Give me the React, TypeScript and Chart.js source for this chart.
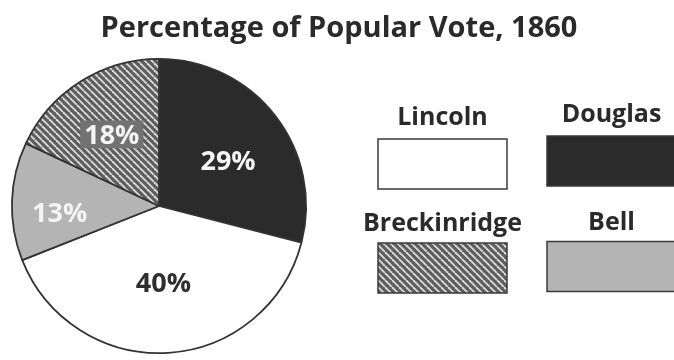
import React, { useEffect, useRef } from "react";
import { Chart, registerables } from "chart.js";

Chart.register(...registerables);

const TITLE = "Percentage of Popular Vote, 1860";
const candidates = ["Douglas", "Lincoln", "Bell", "Breckinridge"];
const percents = [29, 40, 13, 18];
const legendOrder = ["Lincoln", "Douglas", "Breckinridge", "Bell"];

const FONT = '"Open Sans", "Noto Sans", sans-serif';

function makeHatch(): CanvasPattern | string {
  const s = 7;
  const c = document.createElement("canvas");
  c.width = s;
  c.height = s;
  const g = c.getContext("2d");
  if (!g) return "#666";
  g.fillStyle = "#5e5e5e";
  g.fillRect(0, 0, s, s);
  g.strokeStyle = "#dcdcdc";
  g.lineWidth = 1.8;
  for (let k = -1; k <= 1; k++) {
    g.beginPath();
    g.moveTo(k * s, 0);
    g.lineTo(k * s + s, s);
    g.stroke();
  }
  const p = g.createPattern(c, "repeat");
  return p || "#666";
}

export default function App() {
  const ref = useRef<HTMLCanvasElement | null>(null);

  useEffect(() => {
    if (!ref.current) return;
    const hatch = makeHatch();
    const fills: Record<string, any> = {
      Douglas: "#2b2b2b",
      Lincoln: "#ffffff",
      Bell: "#b4b4b4",
      Breckinridge: hatch,
    };
    const textColors: Record<string, string> = {
      Douglas: "#f4f4f4",
      Lincoln: "#2e2e2e",
      Bell: "#f4f4f4",
      Breckinridge: "#f4f4f4",
    };
    // label placement style: fraction of radius, angle tweak (degrees)
    const labelRadius: Record<string, number> = {
      Douglas: 0.563,
      Lincoln: 0.521,
      Bell: 0.677,
      Breckinridge: 0.583,
    };
    const labelTweak: Record<string, number> = {
      Douglas: 4.3,
      Lincoln: 0.3,
      Bell: -5.5,
      Breckinridge: -1.0,
    };

    const overlay = {
      id: "overlay",
      afterDatasetsDraw(chart: any) {
        const ctx = chart.ctx as CanvasRenderingContext2D;
        const meta = chart.getDatasetMeta(0);
        ctx.save();
        const fs = 27;
        ctx.font = `700 ${fs}px ${FONT}`;
        ctx.textAlign = "center";
        ctx.textBaseline = "alphabetic";
        meta.data.forEach((arc: any, i: number) => {
          const name = candidates[i];
          const { x, y, startAngle, endAngle, outerRadius } = arc.getProps(
            ["x", "y", "startAngle", "endAngle", "outerRadius"],
            true
          );
          const mid = (startAngle + endAngle) / 2 + (labelTweak[name] * Math.PI) / 180;
          const r = outerRadius * labelRadius[name];
          const lx = x + Math.cos(mid) * r;
          const ly = y + Math.sin(mid) * r;
          const txt = `${percents[i]}%`;
          if (name === "Breckinridge") {
            const w = ctx.measureText(txt).width;
            ctx.fillStyle = "#727272";
            ctx.fillRect(lx - w / 2 - 4, ly - 14, w + 8, 28);
          }
          ctx.fillStyle = textColors[name];
          ctx.fillText(txt, lx, ly + fs * 0.357);
        });

        // title
        ctx.fillStyle = "#2a2a2a";
        ctx.font = `700 29px ${FONT}`;
        ctx.fillText(TITLE, 339, 37);

        // legend
        const colLeft = [378, 547];
        const colShift = [0, -3];
        const labelBase = [125, 231];
        const boxTop = [139, 243];
        const bw = 129;
        const bh = 50;
        legendOrder.forEach((name, k) => {
          const col = k % 2;
          const row = Math.floor(k / 2);
          const bx = colLeft[col];
          const dy = colShift[col] * (row === 0 ? 1 : 0.5);
          ctx.font = `700 25px ${FONT}`;
          ctx.fillStyle = "#2a2a2a";
          ctx.textAlign = "center";
          ctx.fillText(name, bx + bw / 2, labelBase[row] + dy);
          ctx.fillStyle = fills[name];
          ctx.fillRect(bx, boxTop[row] + dy, bw, bh);
          ctx.strokeStyle = "#3a3a3a";
          ctx.lineWidth = 1.5;
          ctx.strokeRect(bx, boxTop[row] + dy, bw, bh);
        });
        ctx.restore();
      },
    };

    const chart = new Chart(ref.current, {
      type: "pie",
      data: {
        labels: candidates,
        datasets: [
          {
            data: percents,
            backgroundColor: candidates.map((c) => fills[c]),
            borderColor: "#333333",
            borderWidth: 1.8,
          },
        ],
      },
      options: {
        animation: false,
        responsive: true,
        maintainAspectRatio: false,
        layout: { padding: { left: 11, right: 367, top: 58, bottom: 6 } },
        plugins: {
          legend: { display: false },
          title: { display: false },
          tooltip: { enabled: false },
        },
      },
      plugins: [overlay],
    });
    return () => chart.destroy();
  }, []);

  return (
    <div
      style={{
        position: "fixed",
        left: 0,
        top: 0,
        width: 674,
        height: 360,
        background: "#ffffff",
      }}
    >
      <canvas ref={ref} />
    </div>
  );
}
